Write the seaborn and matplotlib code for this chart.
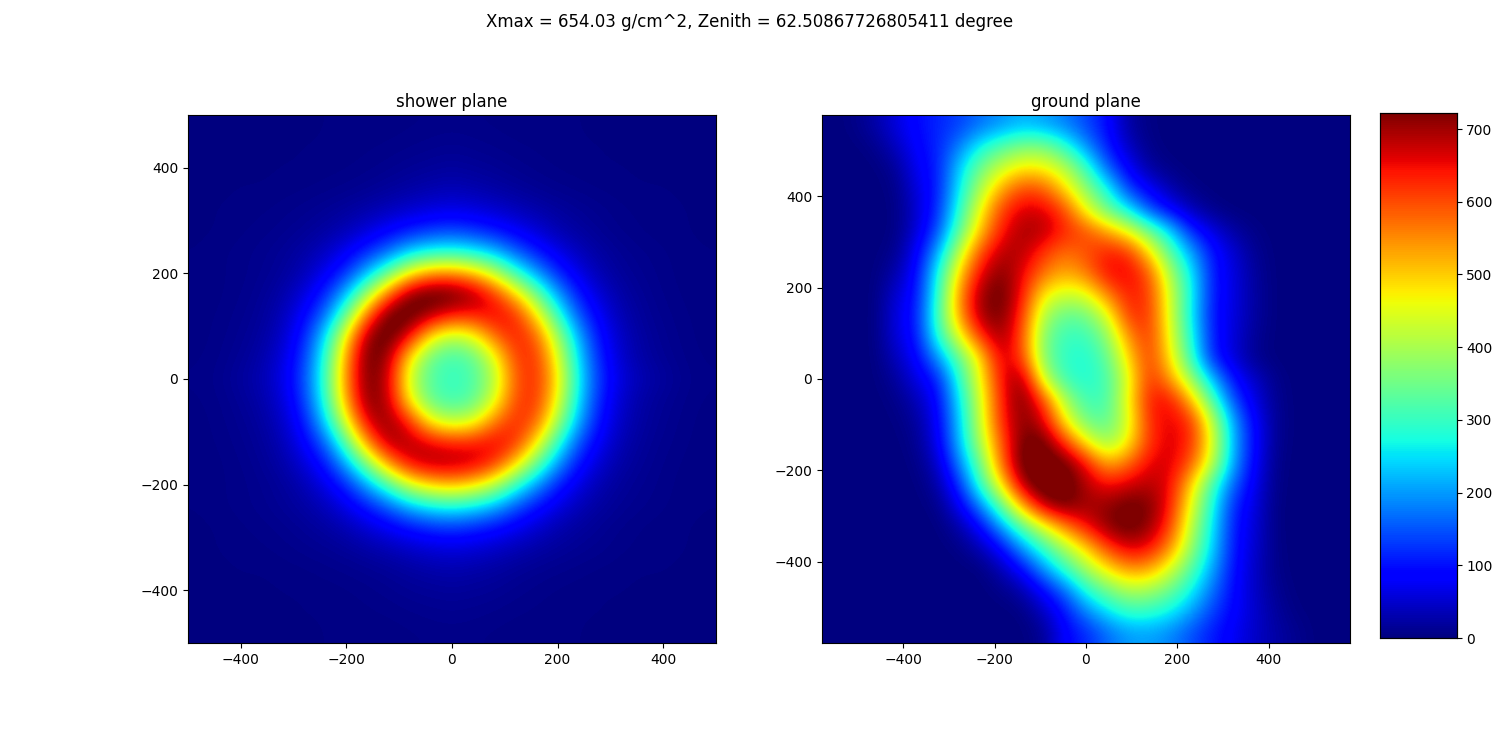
import matplotlib
matplotlib.use('Agg')
import numpy as np
import matplotlib.pyplot as plt
import seaborn as sns

title = 'Xmax = 654.03 g/cm^2, Zenith = 62.50867726805411 degree'
shower_range = 500
ground_range = 578
vmax = 722
shower_ticks = [-400, -200, 0, 200, 400]
ground_ticks = [-400, -200, 0, 200, 400]

# top row first
shower_plane = [
    [1,1,1,2,2,2,3,3,4,4,5,6,7,6,5,4,4,3,3,2,2,2,1,1,1],
    [1,1,2,2,2,3,3,4,5,6,8,10,12,10,8,6,5,4,3,3,2,2,2,1,1],
    [1,2,2,2,3,3,4,5,7,10,14,17,20,17,14,10,7,5,4,3,3,2,2,2,1],
    [2,2,3,3,4,5,7,9,13,18,24,30,35,30,24,18,13,9,7,5,4,3,3,2,2],
    [2,3,4,5,7,10,14,20,28,38,50,60,65,60,50,38,28,20,14,10,6,5,4,3,2],
    [2,3,5,7,10,15,23,35,58,85,110,130,140,125,105,80,55,32,21,13,8,5,4,3,2],
    [3,5,7,10,15,25,42,75,120,170,240,275,285,265,225,160,108,68,38,22,13,9,6,4,3],
    [3,5,7,11,18,35,72,125,225,345,480,550,560,520,430,305,205,118,65,32,17,11,7,4,3],
    [3,5,8,14,27,58,115,225,400,585,725,760,750,710,630,505,355,205,105,52,25,14,8,5,3],
    [4,6,10,17,36,85,170,345,585,750,755,690,635,635,660,635,490,300,150,75,33,17,10,6,4],
    [4,7,12,21,46,110,245,480,715,755,645,470,405,445,570,640,590,400,210,95,42,21,12,7,4],
    [5,8,15,27,58,128,285,540,745,700,475,340,305,330,445,610,625,455,242,110,48,24,14,8,5],
    [6,10,20,32,65,140,300,555,740,675,430,320,300,315,405,590,630,485,258,122,58,32,20,10,6],
    [5,8,15,27,55,128,285,535,730,685,465,335,303,328,440,605,625,460,245,110,48,24,14,8,5],
    [4,7,12,21,45,105,238,455,675,715,625,460,410,440,560,630,590,400,210,95,42,21,12,7,4],
    [4,6,10,17,35,80,160,330,555,700,695,660,635,640,660,630,485,295,148,73,33,17,10,6,4],
    [3,5,8,14,26,55,105,210,370,545,660,695,695,680,625,500,345,200,100,50,24,14,8,5,3],
    [3,5,7,11,18,33,66,118,210,320,440,500,520,490,420,300,200,112,62,31,17,11,7,4,3],
    [3,5,7,10,15,23,38,68,110,160,225,265,280,260,220,155,102,64,36,21,13,9,6,4,3],
    [2,3,5,7,10,15,22,34,55,78,102,122,130,118,100,75,52,31,20,13,8,5,4,3,2],
    [2,3,4,5,7,10,13,18,26,35,46,55,60,55,46,35,25,18,13,10,6,5,4,3,2],
    [2,2,3,3,4,5,7,9,12,16,22,27,31,27,22,16,12,9,7,5,4,3,3,2,2],
    [1,2,2,2,3,3,4,5,7,10,14,16,18,16,14,10,7,5,4,3,3,2,2,2,1],
    [1,1,2,2,2,3,3,4,5,6,8,10,11,10,8,6,5,4,3,3,2,2,2,1,1],
    [1,1,1,2,2,2,3,3,4,4,5,6,7,6,5,4,4,3,3,2,2,2,1,1,1],
]

ground_plane = [
    [0,5,25,60,95,115,135,170,195,220,205,180,140,95,22,3,0,0,0,0,0,0,0,0,0],
    [0,0,8,40,85,115,180,270,325,365,365,295,195,110,42,6,0,0,0,0,0,0,0,0,0],
    [0,0,0,15,75,110,235,350,430,480,470,415,305,160,80,20,4,0,0,0,0,0,0,0,0],
    [0,0,0,5,60,110,255,405,530,605,590,490,375,275,130,80,28,5,0,0,0,0,0,0,0],
    [0,0,0,2,50,120,285,465,610,670,665,605,460,345,260,145,85,35,8,0,0,0,0,0,0],
    [0,0,0,2,55,145,330,510,640,700,690,630,600,535,460,350,240,115,62,22,5,0,0,0,0],
    [0,0,0,10,78,210,420,600,690,690,615,570,595,640,625,490,325,205,100,52,12,0,0,0,0],
    [0,0,0,28,92,270,495,660,725,655,570,520,562,650,660,595,400,255,105,60,18,0,0,0,0],
    [0,0,0,52,100,290,545,705,745,640,470,430,445,555,640,615,435,265,105,62,20,0,0,0,0],
    [0,0,0,62,108,310,535,705,730,615,400,335,345,440,620,620,440,255,100,60,20,0,0,0,0],
    [0,0,0,58,102,285,450,620,710,595,360,300,300,370,545,625,455,275,105,56,14,0,0,0,0],
    [0,0,0,38,85,195,335,485,680,610,360,290,280,330,490,620,480,295,110,55,10,0,0,0,0],
    [0,0,0,18,65,110,285,465,650,715,425,300,280,310,445,630,540,385,220,95,45,7,0,0,0],
    [0,0,0,6,35,90,250,440,635,735,605,400,305,310,465,640,650,515,315,140,62,10,0,0,0],
    [0,0,0,2,18,80,230,430,630,720,670,475,345,330,440,630,660,625,420,200,82,12,0,0,0],
    [0,0,0,0,10,70,220,405,590,740,740,620,475,375,470,620,670,625,450,210,88,10,0,0,0],
    [0,0,0,0,4,45,180,345,575,750,755,740,650,525,575,660,670,590,420,200,80,6,0,0,0],
    [0,0,0,0,0,24,120,295,480,700,765,755,690,645,670,690,655,495,305,155,70,4,0,0,0],
    [0,0,0,0,0,6,72,180,335,530,690,735,700,710,740,725,640,450,270,115,60,2,0,0,0],
    [0,0,0,0,0,0,24,88,200,330,445,555,645,715,745,710,610,415,250,105,55,2,0,0,0],
    [0,0,0,0,0,0,4,32,92,200,300,400,495,605,670,650,550,380,238,100,50,4,0,0,0],
    [0,0,0,0,0,0,0,0,32,95,195,295,395,480,545,535,440,325,205,95,44,6,0,0,0],
    [0,0,0,0,0,0,0,0,6,28,92,165,280,350,405,395,345,265,170,90,44,12,0,0,0],
    [0,0,0,0,0,0,0,0,0,2,42,102,185,250,300,295,265,205,135,85,50,18,3,0,0],
    [0,0,0,0,0,0,0,0,0,0,12,85,115,165,200,205,185,145,105,75,45,25,10,0,0],
]


def draw_panel(ax, values, extent, ticks, panel_title, cbar_ax=None):
    values = np.array(values)
    n = values.shape[0]
    sns.heatmap(values, ax=ax, cmap='jet', vmin=0, vmax=vmax,
                cbar=cbar_ax is not None, cbar_ax=cbar_ax,
                xticklabels=False, yticklabels=False)
    # the original is a smooth image, so the same cells go through bicubic resampling
    ax.imshow(values, cmap='jet', vmin=0, vmax=vmax, interpolation='bicubic',
              extent=(0, n, n, 0), aspect='auto', zorder=2)
    ax.set_xlim(0, n)
    ax.set_ylim(n, 0)
    labels = [str(t).replace('-', '\u2212') for t in ticks]
    ax.set_xticks([(t + extent) / (2 * extent) * n for t in ticks])
    ax.set_xticklabels(labels, rotation=0)
    ax.set_yticks([(extent - t) / (2 * extent) * n for t in ticks])
    ax.set_yticklabels(labels, rotation=0)
    ax.tick_params(length=3.5, width=0.8, labelsize=10)
    for spine in ax.spines.values():
        spine.set_visible(True)
        spine.set_linewidth(0.8)
    ax.set_title(panel_title, fontsize=12)


fig = plt.figure(figsize=(15, 7.5), dpi=100)
fig.suptitle(title, fontsize=12, y=0.983)
ax1 = fig.add_axes([0.1253, 0.1427, 0.352, 0.704])
ax2 = fig.add_axes([0.548, 0.1427, 0.352, 0.704])
cax = fig.add_axes([0.9203, 0.1493, 0.0507, 0.7])

draw_panel(ax1, shower_plane, shower_range, shower_ticks, 'shower plane')
draw_panel(ax2, ground_plane, ground_range, ground_ticks, 'ground plane', cbar_ax=cax)

cax.set_yticks([0, 100, 200, 300, 400, 500, 600, 700])
cax.tick_params(length=3.5, width=0.8, labelsize=10)
for spine in cax.spines.values():
    spine.set_visible(True)
    spine.set_linewidth(0.8)

fig.savefig('out.png', dpi=100)
